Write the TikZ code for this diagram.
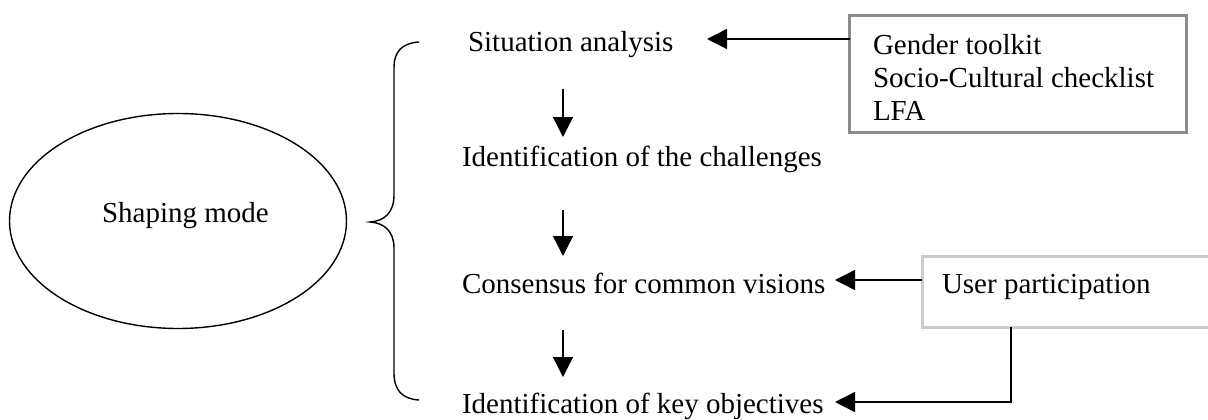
\documentclass[tikz,border=0pt]{standalone}
\usepackage{fontspec}
\setmainfont{Liberation Serif}
\usetikzlibrary{arrows.meta,shapes.geometric}
\begin{document}
\begin{tikzpicture}[x=1pt,y=-1pt,
  every node/.style={inner sep=0pt, outer sep=0pt},
  txt/.style={font=\fontsize{29}{33}\selectfont, anchor=base west},
  arr/.style={line width=1.4pt, -{Triangle[length=20pt,width=20pt]}},
  ln/.style={line width=1.4pt},
  toolbox/.style={draw=black!45, line width=3pt, rectangle},
  userbox/.style={draw=black!20, line width=3pt, rectangle},
]
\useasboundingbox (0,0) rectangle (1208,420);

% shaping mode
\node[draw, ellipse, line width=1.4pt, minimum width=337pt, minimum height=215pt] (mode) at (178,221) {};
\node[txt] (modetxt) at (102,222) {Shaping mode};

% curly brace
\draw[ln] (419,42) .. controls (402,43) and (394,52) .. (394,67)
  -- (394,195) .. controls (394,212) and (385,221) .. (370,222)
  .. controls (385,223) and (394,232) .. (394,248)
  -- (394,373) .. controls (394,390) and (402,399) .. (419,400);

% steps
\node[txt] (sit)  at (468,52)  {Situation analysis};
\node[txt] (chal) at (462,166) {Identification of the challenges};
\node[txt] (cons) at (462,293) {Consensus for common visions};
\node[txt] (obj)  at (462,413) {Identification of key objectives};

\coordinate (d1a) at (563,89);  \coordinate (d1b) at (563,137);
\coordinate (d2a) at (563,210); \coordinate (d2b) at (563,256);
\coordinate (d3a) at (563,330); \coordinate (d3b) at (563,377);
\draw[arr] (d1a) -- (d1b);
\draw[arr] (d2a) -- (d2b);
\draw[arr] (d3a) -- (d3b);

% tools box
\node[toolbox, minimum width=337pt, minimum height=117pt] (gbox) at (1018,74) {};
\node[txt] (gtext) at (873,55) {\begin{tabular}[t]{@{}l@{}}Gender toolkit\\Socio-Cultural checklist\\LFA\end{tabular}};
\coordinate (tipsit) at (707,39);
\draw[arr] (gbox.west |- tipsit) -- (tipsit);

% user participation box
\node[userbox, minimum width=308pt, minimum height=71pt] (ubox) at (1076,291.5) {};
\node[txt] (utext) at (942,293) {User participation};
\coordinate (tipcons) at (835,280);
\draw[arr] (ubox.west |- tipcons) -- (tipcons);
\coordinate (uturn) at (1011,402);
\coordinate (tipobj) at (835,402);
\draw[arr] (uturn |- ubox.south) -- (uturn) -- (tipobj);
\end{tikzpicture}
\end{document}
